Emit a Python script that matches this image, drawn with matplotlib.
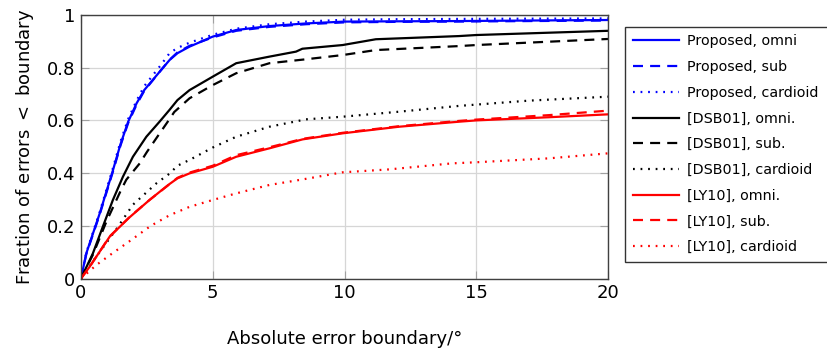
import matplotlib
matplotlib.use("Agg")
import matplotlib.pyplot as plt

# ---- data ----
prop_x = [0, 0.2, 0.71, 1.21, 1.5, 1.79, 2.11, 2.40, 3.03, 3.36, 3.66, 4.12, 5.0, 5.89, 7.15, 8.54, 10, 12, 14.3, 17, 20]
prop_omni = [0, 0.095, 0.247, 0.41, 0.51, 0.595, 0.665, 0.715, 0.79, 0.829, 0.855, 0.88, 0.918, 0.943, 0.958, 0.968, 0.975, 0.976, 0.977, 0.979, 0.981]
prop_sub = [0, 0.092, 0.243, 0.405, 0.505, 0.59, 0.66, 0.712, 0.79, 0.83, 0.858, 0.883, 0.915, 0.94, 0.955, 0.965, 0.972, 0.974, 0.975, 0.977, 0.979]
prop_card = [0, 0.098, 0.252, 0.418, 0.52, 0.605, 0.675, 0.73, 0.81, 0.855, 0.875, 0.895, 0.925, 0.948, 0.965, 0.975, 0.982, 0.984, 0.985, 0.986, 0.987]

dsb_omni_x = [0, 0.45, 0.83, 1.21, 1.59, 1.97, 2.48, 2.98, 3.36, 3.66, 4.12, 5.0, 5.89, 7.15, 8.16, 8.4, 9.93, 11.19, 14.34, 15, 20]
dsb_omni = [0, 0.095, 0.197, 0.298, 0.386, 0.462, 0.538, 0.595, 0.64, 0.677, 0.715, 0.766, 0.817, 0.842, 0.861, 0.872, 0.886, 0.908, 0.92, 0.924, 0.94]
dsb_sub_x = [0, 0.45, 0.96, 1.52, 1.72, 2.23, 2.5, 2.98, 3.36, 3.54, 4.12, 5.0, 5.89, 7.15, 8.54, 9.93, 11.19, 14.34, 15, 20]
dsb_sub = [0, 0.09, 0.215, 0.336, 0.375, 0.437, 0.48, 0.55, 0.605, 0.632, 0.684, 0.734, 0.779, 0.817, 0.832, 0.848, 0.867, 0.882, 0.886, 0.909]
dsb_card_x = [0, 0.58, 1.34, 1.97, 2.86, 3.36, 3.66, 4.12, 5.0, 5.89, 7.15, 8.54, 9.93, 12.07, 14.34, 17.0, 20]
dsb_card = [0, 0.083, 0.187, 0.28, 0.361, 0.398, 0.428, 0.45, 0.497, 0.538, 0.576, 0.604, 0.614, 0.633, 0.655, 0.675, 0.69]

ly_x = [0, 0.33, 1.09, 1.84, 2.6, 3.31, 3.66, 4.12, 5.0, 5.89, 7.15, 8.41, 9.93, 12.07, 14.34, 15, 17.76, 20]
ly_omni = [0, 0.045, 0.159, 0.232, 0.298, 0.355, 0.38, 0.399, 0.424, 0.462, 0.494, 0.528, 0.551, 0.576, 0.595, 0.60, 0.612, 0.623]
ly_sub = [0, 0.045, 0.16, 0.233, 0.298, 0.354, 0.382, 0.402, 0.428, 0.468, 0.498, 0.53, 0.553, 0.578, 0.598, 0.603, 0.62, 0.637]
ly_card_x = [0, 0.58, 1.14, 1.89, 2.65, 3.36, 4.12, 5.0, 5.89, 7.15, 8.41, 9.93, 11.69, 14.09, 14.98, 17.76, 20]
ly_card = [0, 0.051, 0.092, 0.145, 0.2, 0.24, 0.272, 0.298, 0.323, 0.355, 0.376, 0.403, 0.414, 0.437, 0.441, 0.456, 0.475]

labels = ["Proposed, omni", "Proposed, sub", "Proposed, cardioid",
          "[DSB01], omni.", "[DSB01], sub.", "[DSB01], cardioid",
          "[LY10], omni.", "[LY10], sub.", "[LY10], cardioid"]
x_ticks = [0, 5, 10, 15, 20]
y_ticks = [0, 0.2, 0.4, 0.6, 0.8, 1]
y_tick_labels = ["0", "0.2", "0.4", "0.6", "0.8", "1"]

# ---- figure ----
fig = plt.figure(figsize=(8.27, 3.48), dpi=100)
ax = fig.add_axes([81/827, 1-278.5/348, (608-81)/827, (278.5-15)/348])

dashed = (0, (4.5, 3.2))
dotted = (0, (0.8, 2.6))
series = [
    (prop_x, prop_omni, "#0000ff", "-"),
    (prop_x, prop_sub, "#0000ff", dashed),
    (prop_x, prop_card, "#0000ff", dotted),
    (dsb_omni_x, dsb_omni, "black", "-"),
    (dsb_sub_x, dsb_sub, "black", dashed),
    (dsb_card_x, dsb_card, "black", dotted),
    (ly_x, ly_omni, "#ff0000", "-"),
    (ly_x, ly_sub, "#ff0000", dashed),
    (ly_card_x, ly_card, "#ff0000", dotted),
]
handles = []
for (xs, ys, c, ls), lab in zip(series, labels):
    h, = ax.plot(xs, ys, color=c, linestyle=ls, lw=1.6, label=lab)
    handles.append(h)

ax.set_xlim(0, 20)
ax.set_ylim(0, 1)
ax.set_xticks(x_ticks)
ax.set_yticks(y_ticks)
ax.set_yticklabels(y_tick_labels)
ax.grid(True, color="#d6d6d6", lw=0.9)
ax.set_axisbelow(True)
ax.tick_params(direction="in", length=6, color="#a0a0a0", labelsize=13,
               top=True, right=True, pad=4)
for s in ax.spines.values():
    s.set_color("#404040")
    s.set_linewidth(1.0)

ax.set_xlabel("Absolute error boundary/°", fontsize=13, labelpad=20)
ax.set_ylabel("Fraction of errors $<$ boundary", fontsize=13, labelpad=8)

x0 = 625/827
y1 = 1 - 26.5/348
y0 = 1 - 268/348
leg = fig.legend(handles=handles, loc="upper left",
                 bbox_to_anchor=(x0, y0, 1.05 - x0, y1 - y0), mode="expand",
                 fontsize=10.3,
                 frameon=True, fancybox=False, edgecolor="black",
                 handlelength=3.2, labelspacing=0.82, borderpad=0.55,
                 handletextpad=0.55, borderaxespad=0)
leg.get_frame().set_linewidth(1.0)

fig.savefig("out.png", dpi=100)
